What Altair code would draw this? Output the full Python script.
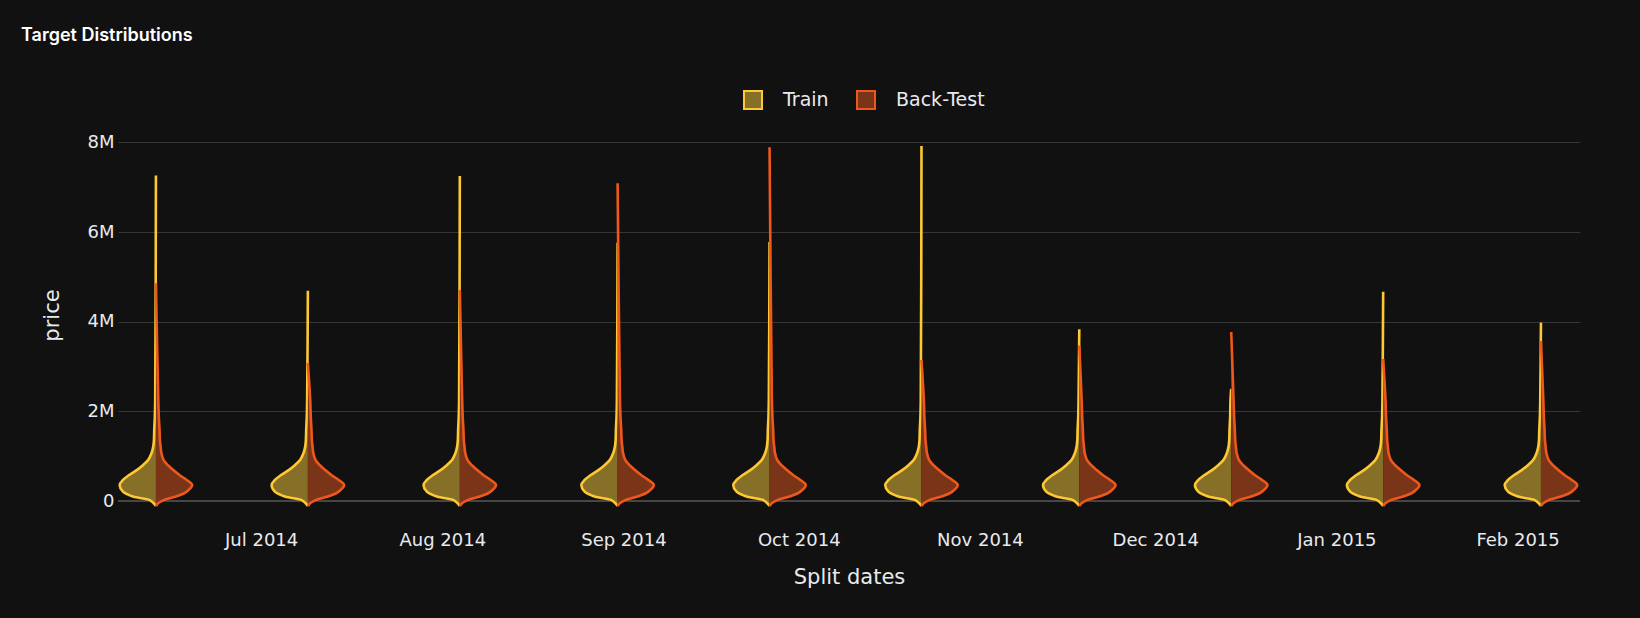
import altair as alt
import pandas as pd

# ---- data ----
DATES = ["2014-06-13", "2014-07-09", "2014-08-04", "2014-08-31", "2014-09-26",
         "2014-10-22", "2014-11-18", "2014-12-14", "2015-01-09", "2015-02-05"]
# maximum price (millions) reached by each half violin
TRAIN_MAX_M = [7.26, 4.69, 7.25, 5.76, 5.78, 7.92, 3.83, 2.50, 4.67, 3.98]
BACK_MAX_M = [4.86, 3.08, 4.71, 7.09, 7.89, 3.15, 3.47, 3.77, 3.17, 3.57]
# body profile of the violins (price in millions -> relative density)
PRICE_LEVELS_M = [-0.11, -0.05, 0.02, 0.10, 0.21, 0.36, 0.47, 0.58, 0.69, 0.80,
                  0.92, 1.07, 1.21, 1.36, 1.58, 1.88, 2.25]
TRAIN_DENSITY = [0.0, 0.06, 0.17, 0.63, 0.91, 1.0, 0.91, 0.74, 0.53, 0.36,
                 0.21, 0.12, 0.075, 0.055, 0.047, 0.03, 0.02]
BACK_DENSITY = [0.0, 0.06, 0.21, 0.55, 0.85, 1.0, 0.85, 0.65, 0.48, 0.33,
                0.21, 0.15, 0.13, 0.11, 0.10, 0.08, 0.065]
SERIES = ["Train", "Back-Test"]
LINE_COLORS = ["#FDC833", "#EF581C"]
FILL_COLORS = ["#866F26", "#7A3518"]

HALF_DAYS = 6.2  # half width of a violin along the date axis

rows = []
for d, tmax, bmax in zip(DATES, TRAIN_MAX_M, BACK_MAX_M):
    center = pd.Timestamp(d)
    for series, sign, dens, vmax in (("Train", -1, TRAIN_DENSITY, tmax),
                                     ("Back-Test", 1, BACK_DENSITY, bmax)):
        pts = [(p, w) for p, w in zip(PRICE_LEVELS_M, dens) if p < vmax]
        pts.append((vmax, 0.0))
        for p, w in pts:
            rows.append({
                "date": center,
                "edge": center + pd.Timedelta(days=sign * w * HALF_DAYS),
                "price": p * 1e6,
                "series": series,
                "group": f"{d}-{series}",
            })
df = pd.DataFrame(rows)

FONT = "DejaVu Sans"
TXT = "#e8eaee"

xscale = alt.Scale(domain=[alt.DateTime(year=2014, month=6, date=6, hours=12, minutes=15),
                           alt.DateTime(year=2015, month=2, date=11, hours=16, minutes=20)])
yscale = alt.Scale(domain=[-0.2e6, 8.5e6], nice=False, zero=False)

xaxis = alt.Axis(format="%b %Y", tickCount={"interval": "month", "step": 1}, grid=False,
                 labelFontSize=18, titleFontSize=21, labelPadding=21, titlePadding=17,
                 labelFont=FONT, titleFont=FONT, labelColor=TXT, titleColor=TXT,
                 titleFontWeight="normal", domain=False, ticks=False)
yaxis = alt.Axis(values=[0, 2e6, 4e6, 6e6, 8e6],
                 labelExpr="datum.value == 0 ? '0' : format(datum.value, '~s')",
                 grid=True, gridColor="#363636", gridWidth=1,
                 labelFontSize=18, titleFontSize=21, labelPadding=4, titlePadding=25,
                 labelFont=FONT, titleFont=FONT, labelColor=TXT, titleColor=TXT,
                 titleFontWeight="normal", domain=False, ticks=False)

legend = alt.Legend(orient="none", legendX=625, legendY=-30, direction="horizontal",
                    title=None, symbolType="square", symbolSize=324, symbolStrokeWidth=2,
                    labelFontSize=19, labelFont=FONT, labelColor=TXT, labelOffset=20,
                    columnPadding=24, padding=0)

base = alt.Chart(df)

Y = alt.Y("price:Q", scale=yscale, axis=yaxis, title="price")
X = alt.X("edge:T", scale=xscale, axis=xaxis, title="Split dates")

zero = alt.Chart(pd.DataFrame({"y": [0]})).mark_rule(color="#464646", strokeWidth=2).encode(
    y=alt.Y("y:Q", scale=yscale, axis=yaxis, title="price"))


def half_layer(name):
    # outline of each half violin; the fill closes the path along the centre line
    return base.transform_filter(alt.datum.series == name).mark_line(
        interpolate="catmull-rom", strokeWidth=2.6, strokeJoin="round").encode(
        y=Y, x=X,
        stroke=alt.Stroke("series:N", scale=alt.Scale(domain=SERIES, range=LINE_COLORS),
                          legend=legend),
        fill=alt.Fill("series:N", scale=alt.Scale(domain=SERIES, range=FILL_COLORS),
                      legend=legend),
        detail="group:N",
        order="price:Q",
    )


chart = alt.layer(zero, half_layer("Train"), half_layer("Back-Test")).properties(
    width=1462, height=390,
    autosize=alt.AutoSizeParams(type="none"),
    padding={"left": 118, "top": 120, "right": 60, "bottom": 108},
    background="#111111",
    title=alt.TitleParams("Target Distributions", anchor="start", frame="group", dx=-97,
                          font="Inter", fontSize=18, fontWeight=600, color="#ffffff",
                          offset=45),
).configure_view(stroke=None)

chart.save("out.html", embed_options={"renderer": "svg", "actions": False})
